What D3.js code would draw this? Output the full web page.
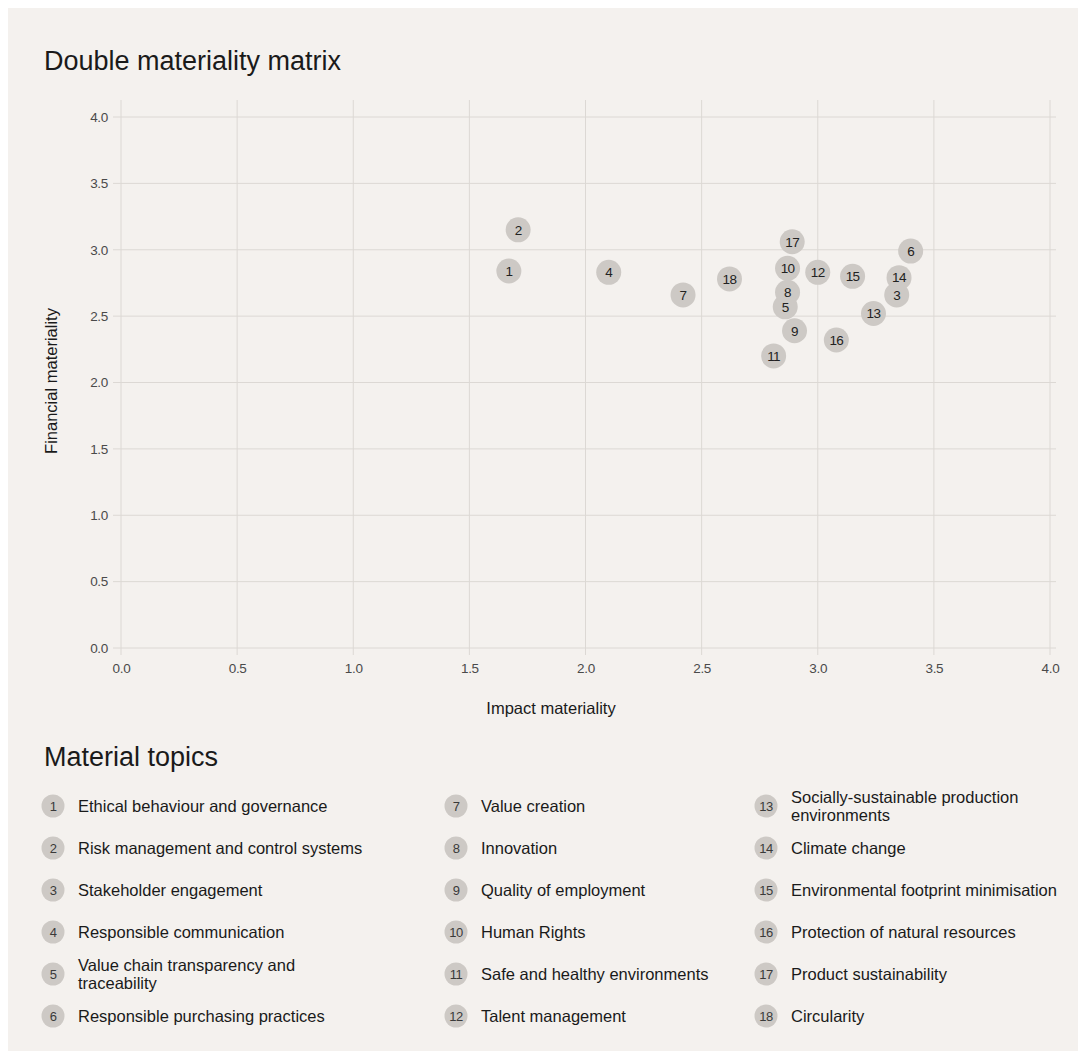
<!DOCTYPE html>
<html>
<head>
<meta charset="utf-8">
<script src="https://cdn.jsdelivr.net/npm/d3@7"></script>
<style>
  html, body { margin: 0; padding: 0; background: #ffffff; }
  svg { display: block; }
  text { font-family: "Liberation Sans", Arial, sans-serif; }
</style>
</head>
<body>
<svg id="chart" width="1086" height="1059"></svg>
<script>
// ---------- data ----------
const topicIds = [1,2,3,4,5,6,7,8,9,10,11,12,13,14,15,16,17,18];
const topicNames = [
  "Ethical behaviour and governance",
  "Risk management and control systems",
  "Stakeholder engagement",
  "Responsible communication",
  "Value chain transparency and\ntraceability",
  "Responsible purchasing practices",
  "Value creation",
  "Innovation",
  "Quality of employment",
  "Human Rights",
  "Safe and healthy environments",
  "Talent management",
  "Socially-sustainable production\nenvironments",
  "Climate change",
  "Environmental footprint minimisation",
  "Protection of natural resources",
  "Product sustainability",
  "Circularity"
];
const impactValues =    [1.67, 1.71, 3.34, 2.10, 2.86, 3.40, 2.42, 2.87, 2.90, 2.87, 2.81, 3.00, 3.24, 3.35, 3.15, 3.08, 2.89, 2.62];
const financialValues = [2.84, 3.15, 2.66, 2.83, 2.57, 2.99, 2.66, 2.68, 2.39, 2.86, 2.20, 2.83, 2.52, 2.79, 2.80, 2.32, 3.06, 2.78];
const tickValues = [0, 0.5, 1.0, 1.5, 2.0, 2.5, 3.0, 3.5, 4.0];
const chartTitle = "Double materiality matrix";
const legendTitle = "Material topics";
const xAxisLabel = "Impact materiality";
const yAxisLabel = "Financial materiality";

// ---------- layout ----------
const svg = d3.select("#chart");
const W = 1086, H = 1059;
const bg = "#f4f1ee", grid = "#dcd8d4", bubble = "#cdc9c5", ink = "#1a1a1a";

svg.append("rect").attr("x", 8).attr("y", 8).attr("width", W - 16).attr("height", H - 16).attr("fill", bg);

const x = d3.scaleLinear().domain([0, 4]).range([121, 1050]);
const y = d3.scaleLinear().domain([0, 4]).range([648, 117]);

svg.append("text").attr("x", 44).attr("y", 70)
  .attr("font-size", 27).attr("fill", ink).text(chartTitle);

// gridlines
const g = svg.append("g");
g.selectAll("line.h").data(tickValues).join("line")
  .attr("x1", 113).attr("x2", 1056)
  .attr("y1", d => y(d)).attr("y2", d => y(d))
  .attr("stroke", grid).attr("stroke-width", 1);
g.selectAll("line.v").data(tickValues).join("line")
  .attr("y1", 100).attr("y2", 655)
  .attr("x1", d => x(d)).attr("x2", d => x(d))
  .attr("stroke", grid).attr("stroke-width", 1);

// axes (labels only)
const fmt = d3.format(".1f");
const xAxis = svg.append("g").attr("transform", `translate(0,${y(0)})`)
  .call(d3.axisBottom(x).tickValues(tickValues).tickFormat(fmt).tickSize(0).tickPadding(15));
const yAxis = svg.append("g").attr("transform", `translate(${x(0)},0)`)
  .call(d3.axisLeft(y).tickValues(tickValues).tickFormat(fmt).tickSize(0).tickPadding(13));
[xAxis, yAxis].forEach(a => {
  a.select(".domain").remove();
  a.selectAll("text").attr("font-size", 13.5).attr("fill", "#4a4a4a")
    .attr("letter-spacing", "-0.3px")
    .attr("font-family", "'Liberation Sans', Arial, sans-serif");
});

svg.append("text").attr("x", 551).attr("y", 714)
  .attr("text-anchor", "middle").attr("font-size", 16.5).attr("fill", ink).text(xAxisLabel);
svg.append("text").attr("transform", `translate(57,381) rotate(-90)`)
  .attr("text-anchor", "middle").attr("font-size", 16.5).attr("fill", ink).text(yAxisLabel);

// points
const pts = topicIds.map((id, i) => ({ id, xv: impactValues[i], yv: financialValues[i] }));
const pg = svg.append("g");
pg.selectAll("circle").data(pts).join("circle")
  .attr("cx", d => x(d.xv)).attr("cy", d => y(d.yv)).attr("r", 12.5).attr("fill", bubble);
pg.selectAll("text").data(pts).join("text")
  .attr("x", d => x(d.xv)).attr("y", d => y(d.yv)).attr("dy", "0.36em")
  .attr("text-anchor", "middle").attr("font-size", 13.5).attr("fill", "#222")
  .attr("letter-spacing", "-0.6px")
  .text(d => d.id);

// legend
svg.append("text").attr("x", 44).attr("y", 766)
  .attr("font-size", 27).attr("fill", ink).text(legendTitle);

const colX = [53, 456, 766];
const legend = svg.append("g");
topicIds.forEach((id, i) => {
  const col = Math.floor(i / 6), row = i % 6;
  const cx = colX[col], cy = 806 + row * 42;
  const item = legend.append("g");
  item.append("circle").attr("cx", cx).attr("cy", cy).attr("r", 11.5).attr("fill", bubble);
  item.append("text").attr("x", cx).attr("y", cy).attr("dy", "0.36em")
    .attr("text-anchor", "middle").attr("font-size", 13).attr("fill", "#3a3a3a")
    .attr("letter-spacing", "-0.6px").text(id);
  const lines = topicNames[i].split("\n");
  const t = item.append("text").attr("x", cx + 25).attr("font-size", 16.5).attr("fill", ink);
  lines.forEach((ln, k) => {
    t.append("tspan").attr("x", cx + 25)
      .attr("y", cy + 6 + (k - (lines.length - 1) / 2) * 18)
      .text(ln);
  });
});
</script>
</body>
</html>
